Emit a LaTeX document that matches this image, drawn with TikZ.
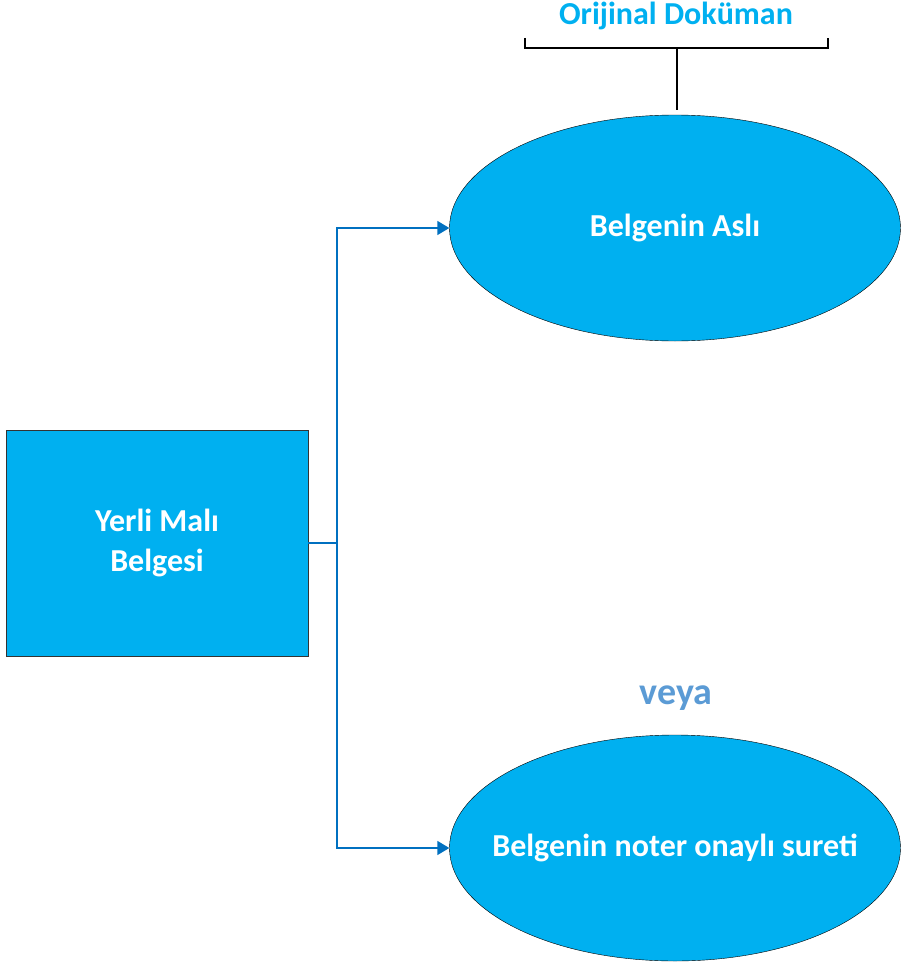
\documentclass[tikz,border=0pt]{standalone}
\usepackage{fontspec}
\setmainfont{Carlito}
\usetikzlibrary{shapes.geometric,arrows.meta}
\definecolor{kutumavi}{HTML}{00B0F0}
\definecolor{okmavi}{HTML}{0070C0}
\definecolor{veyamavi}{HTML}{5B9BD5}
\begin{document}
\begin{tikzpicture}[x=1pt,y=-1pt,
	kutu/.style={draw=black!80,fill=kutumavi,minimum width=302pt,minimum height=226pt,text=white,font=\fontsize{32}{40}\selectfont\bfseries,align=center},
	elips/.style={ellipse,draw=black,fill=kutumavi,minimum width=451pt,minimum height=226pt,inner sep=0pt,
		label={[text=white,font=\fontsize{32}{38}\selectfont\bfseries]center:#1}},
	ok/.style={draw=okmavi,line width=1.5pt,-{Triangle[length=12pt,width=14pt]}}]
	\useasboundingbox (0,0) rectangle (900,966);
	\node [kutu] (belge) at (157,543) {Yerli Malı\\Belgesi};
	\node [elips={Belgenin Aslı}] (asli) at (675,228) {};
	\node [elips={Belgenin noter onaylı sureti}] (suret) at (675,848) {};
	\node [text=kutumavi,font=\fontsize{32}{38}\selectfont\bfseries] (baslik) at (676,16) {Orijinal Doküman};
	\node [text=veyamavi,font=\fontsize{38}{44}\selectfont\bfseries] (veya) at (676,698) {veya};
	\coordinate (kol) at (337,543);
	\coordinate (ayrac) at (677,48);
	\draw [draw=okmavi,line width=1.5pt] (belge.east)-- (kol);
	\draw [ok] (kol) |- (asli.west);
	\draw [ok] (kol) |- (suret.west);
	\draw [line width=1.5pt] (525,38)-- (525,48)-- (828,48)-- (828,38);
	\draw [line width=1.5pt] (ayrac)-- (677,110);
\end{tikzpicture}
\end{document}
